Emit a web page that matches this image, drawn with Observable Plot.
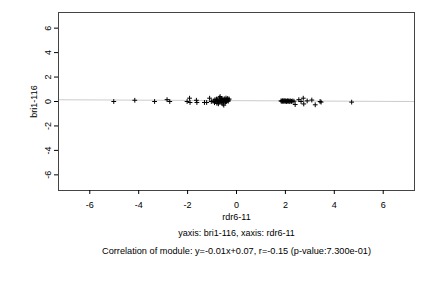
<!DOCTYPE html>
<html>
<head>
<meta charset="utf-8">
<script src="https://cdn.jsdelivr.net/npm/d3@7"></script>
<script src="https://cdn.jsdelivr.net/npm/@observablehq/plot@0.6"></script>
<style>
  html, body { margin: 0; padding: 0; background: #fff; }
  #chart svg { display: block; }
</style>
</head>
<body>
<div id="chart"></div>
<script>
const xLabel = "rdr6-11";
const yLabel = "bri1-116";
const subtitle = "yaxis: bri1-116, xaxis: rdr6-11";
const caption = "Correlation of module: y=-0.01x+0.07, r=-0.15 (p-value:7.300e-01)";
const xTicks = [-6, -4, -2, 0, 2, 4, 6];
const yTicks = [-6, -4, -2, 0, 2, 4, 6];
const fitSlope = -0.01;
const fitIntercept = 0.07;

const xValues = [-5.02, -4.16, -3.35, -2.84, -2.73, -2.02, -1.92, -1.90, -1.64, -1.62, -1.31, -1.22, -1.10, -1.03,
  -0.95, -0.90, -0.88, -0.85, -0.82, -0.80, -0.78, -0.76, -0.74, -0.72, -0.70, -0.68, -0.67, -0.65, -0.63, -0.61,
  -0.60, -0.58, -0.56, -0.55, -0.53, -0.52, -0.50, -0.48, -0.46, -0.45, -0.43, -0.41, -0.40, -0.38, -0.36, -0.34, -0.32, -0.30,
  1.82, 1.85, 1.88, 1.90, 1.93, 1.95, 1.98, 2.00, 2.03, 2.05, 2.08, 2.10, 2.13, 2.16, 2.19, 2.22, 2.25, 2.30, 2.35, 2.40,
  2.55, 2.64, 2.73, 2.75, 2.89, 3.08, 3.22, 3.42, 3.46, 4.71];
const yValues = [0.00, 0.10, 0.00, 0.15, 0.00, 0.00, 0.27, -0.08, 0.10, -0.08, -0.08, -0.08, 0.27, 0.00,
  0.05, -0.10, 0.15, 0.00, 0.20, -0.15, 0.05, 0.10, -0.19, 0.00, 0.30, -0.05, 0.40, 0.12, 0.02, 0.25,
  -0.10, 0.08, 0.18, -0.20, 0.00, -0.30, 0.22, 0.05, 0.10, -0.05, 0.28, 0.00, 0.15, 0.08, 0.25, 0.02, 0.12, 0.20,
  0.05, 0.02, 0.06, 0.00, 0.04, 0.07, 0.01, 0.05, 0.03, 0.00, 0.06, 0.02, 0.04, 0.00, 0.05, 0.03, 0.01, 0.04, 0.02, -0.25,
  0.15, 0.00, 0.27, -0.20, 0.05, 0.12, -0.27, 0.00, -0.05, -0.05];

const points = xValues.map((x, i) => ({x, y: yValues[i]}));
const fitLine = [-7.28, 7.28].map(x => ({x, y: fitIntercept + fitSlope * x}));

const plusSymbol = {
  draw(context, size) {
    const r = Math.sqrt(size / Math.PI);
    context.moveTo(-r, 0); context.lineTo(r, 0);
    context.moveTo(0, -r); context.lineTo(0, r);
  }
};

const font = "Liberation Sans, Arial, Helvetica, sans-serif";
const fmt = d => String(d);

const chart = Plot.plot({
  width: 432,
  height: 288,
  marginLeft: 58,
  marginRight: 18,
  marginTop: 12,
  marginBottom: 98,
  style: {fontFamily: font, fontSize: "9px", color: "#000", background: "#fff"},
  x: {domain: [-7.28, 7.28], label: null},
  y: {domain: [-7.28, 7.28], label: null},
  marks: [
    Plot.line(fitLine, {x: "x", y: "y", stroke: "#cccccc", strokeWidth: 1}),
    Plot.dot(points, {x: "x", y: "y", symbol: plusSymbol, r: 2.4, stroke: "#000", strokeWidth: 1, fill: "none"}),
    Plot.frame({stroke: "#444", strokeWidth: 1}),
    Plot.axisX({ticks: xTicks, tickFormat: fmt, tickSize: 4, tickPadding: 7, fontSize: 9, fill: "#000", label: null}),
    Plot.axisY({ticks: yTicks, tickFormat: () => "", tickSize: 4, label: null}),
    Plot.text(yTicks, {y: d => d, text: fmt, frameAnchor: "left", dx: -10, rotate: -90, fontSize: 9, fill: "#000", textAnchor: "middle"}),
    Plot.text([xLabel], {frameAnchor: "bottom", dy: 29.5, fontSize: 9, fill: "#000"}),
    Plot.text([yLabel], {frameAnchor: "left", dx: -24, rotate: -90, fontSize: 9, fill: "#000", textAnchor: "middle"}),
    Plot.text([subtitle], {frameAnchor: "bottom", dy: 45.5, fontSize: 9, fill: "#000"}),
    Plot.text([caption], {frameAnchor: "bottom", dy: 63, fontSize: 9.2, fill: "#000"})
  ]
});
document.getElementById("chart").appendChild(chart);
</script>
</body>
</html>
